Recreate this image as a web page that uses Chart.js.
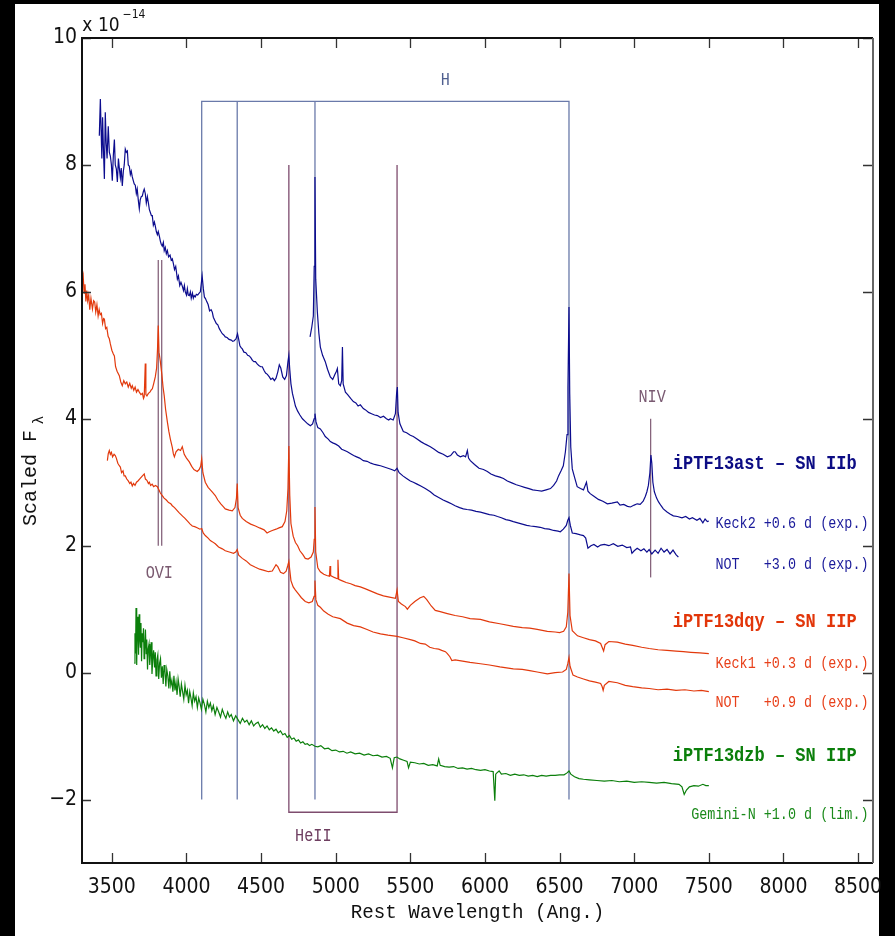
<!DOCTYPE html>
<html>
<head>
<meta charset="utf-8">
<script src="https://cdn.jsdelivr.net/npm/chart.js@4.4.1/dist/chart.umd.min.js"></script>
<style>
  html, body { margin: 0; padding: 0; background: #000; }
  canvas { display: block; }
</style>
</head>
<body>
<canvas id="spectra" width="895" height="936"></canvas>
<script>
// axis ticks
const xTicks = [3500, 4000, 4500, 5000, 5500, 6000, 6500, 7000, 7500, 8000, 8500];
const yTicks = [-2, 0, 2, 4, 6, 8, 10];

// iPTF13ast, NOT +3.0 d
const astNotWave = [3416,3423,3428,3433,3438,3443,3450,3456,3462,3468,3476,3483,3490,3497,3503,3510,3517,3523,3530,3537,3544,3550,3557,3563,3570,3577,3583,3590,3597,3604,3610,3617,3624,3630,3637,3644,3650,3657,3664,3670,3677,3684,3690,3697,3704,3711,3717,3724,3731,3738,3745,3751,3758,3765,3771,3778,3785,3791,3798,3805,3811,3818,3825,3831,3838,3845,3851,3858,3865,3872,3880,3890,3898,3905,3912,3920,3928,3939,3946,3955,3963,3972,3980,3986,3992,4000,4006,4012,4019,4026,4032,4040,4046,4052,4059,4066,4075,4085,4093,4105,4113,4120,4128,4135,4145,4155,4165,4173,4180,4190,4200,4210,4220,4230,4240,4250,4260,4272,4285,4300,4310,4320,4332,4342,4350,4358,4366,4374,4385,4398,4410,4421,4432,4442,4452,4462,4475,4485,4497,4508,4520,4530,4542,4555,4565,4578,4589,4600,4612,4622,4632,4645,4658,4670,4680,4686,4692,4700,4710,4720,4730,4745,4760,4777,4795,4812,4830,4845,4855,4861,4868,4880,4897,4915,4930,4950,4964,4980,5000,5020,5040,5060,5078,5100,5120,5140,5160,5185,5210,5235,5260,5280,5300,5325,5350,5375,5395,5411,5425,5450,5475,5500,5520,5545,5570,5600,5634,5660,5690,5720,5748,5775,5800,5830,5855,5880,5910,5940,5970,6000,6030,6060,6084,6110,6140,6165,6190,6220,6250,6280,6305,6340,6370,6400,6430,6460,6490,6505,6525,6545,6555,6563,6572,6585,6610,6640,6660,6675,6690,6710,6730,6755,6775,6800,6830,6860,6890,6920,6950,6975,6985,7000,7020,7045,7065,7085,7100,7118,7140,7160,7180,7200,7220,7240,7260,7280,7296];
const astNotFlux = [8.46,9.04,8.55,8.10,8.75,8.30,7.78,8.83,8.35,8.10,8.61,8.20,8.14,8.00,7.75,8.15,8.40,8.00,7.94,7.73,8.10,7.95,7.80,7.95,7.67,7.90,8.00,8.25,8.20,8.22,8.00,7.98,7.85,7.90,7.81,7.75,7.70,7.68,7.55,7.62,7.45,7.31,7.45,7.50,7.51,7.58,7.62,7.55,7.40,7.50,7.40,7.30,7.25,7.20,7.20,7.05,7.10,7.04,6.95,6.90,6.95,6.88,6.80,6.75,6.72,6.78,6.65,6.70,6.60,6.65,6.55,6.58,6.50,6.52,6.45,6.35,6.40,6.20,6.25,6.10,6.15,6.09,6.02,6.10,6.00,5.95,6.05,5.95,5.94,6.00,5.90,5.98,5.90,5.94,5.92,5.96,5.95,5.98,6.00,6.25,6.05,5.92,5.89,5.85,5.80,5.70,5.72,5.68,5.60,5.55,5.50,5.48,5.42,5.38,5.34,5.32,5.29,5.28,5.25,5.24,5.22,5.23,5.26,5.34,5.25,5.15,5.12,5.10,5.05,5.04,5.00,4.99,4.96,4.92,4.90,4.90,4.86,4.84,4.82,4.82,4.76,4.72,4.70,4.66,4.62,4.64,4.60,4.64,4.74,4.85,4.80,4.66,4.62,4.68,4.90,5.00,4.78,4.55,4.40,4.30,4.20,4.12,4.06,4.00,3.96,3.92,3.89,3.92,4.00,4.08,3.95,3.86,3.84,3.78,3.72,3.68,3.64,3.62,3.60,3.57,3.52,3.50,3.48,3.45,3.42,3.40,3.38,3.34,3.33,3.30,3.28,3.27,3.26,3.24,3.22,3.20,3.18,3.22,3.15,3.10,3.06,3.02,3.00,2.97,2.94,2.90,2.85,2.80,2.76,2.72,2.69,2.66,2.63,2.60,2.58,2.57,2.56,2.54,2.53,2.51,2.49,2.48,2.46,2.44,2.41,2.40,2.38,2.36,2.34,2.32,2.31,2.30,2.29,2.27,2.26,2.24,2.23,2.22,2.26,2.32,2.40,2.44,2.32,2.20,2.19,2.17,2.16,2.12,1.96,2.00,2.02,1.98,2.01,2.02,2.00,2.03,1.99,2.01,1.97,1.98,1.88,1.92,1.96,1.92,1.95,1.90,1.94,1.87,1.93,1.88,1.96,1.90,1.94,1.87,1.93,1.86,1.82];

// iPTF13ast, Keck2 +0.6 d
const astKeckWave = [4828,4840,4850,4856,4861,4866,4877,4887,4897,4912,4930,4945,4964,4980,4995,5005,5011,5020,5031,5040,5045,5050,5065,5080,5100,5118,5135,5150,5165,5185,5200,5220,5240,5260,5279,5300,5320,5340,5355,5366,5385,5400,5408,5413,5418,5430,5453,5475,5500,5520,5545,5570,5600,5634,5660,5690,5720,5748,5770,5790,5800,5815,5835,5855,5870,5882,5890,5902,5930,5960,5990,6016,6040,6070,6100,6124,6150,6180,6210,6237,6265,6295,6320,6350,6380,6410,6439,6460,6480,6493,6510,6525,6539,6550,6556,6563,6568,6575,6585,6600,6618,6640,6660,6680,6690,6705,6730,6760,6790,6820,6850,6887,6905,6930,6955,6975,7000,7020,7040,7060,7075,7085,7095,7105,7112,7118,7125,7135,7150,7163,7180,7195,7220,7240,7262,7290,7320,7345,7370,7390,7420,7440,7460,7475,7490,7500];
const astKeckFlux = [5.29,5.45,5.62,6.40,7.81,6.20,5.68,5.35,5.13,5.00,4.90,4.78,4.66,4.62,4.70,4.75,4.79,4.55,4.52,4.60,5.13,4.55,4.42,4.38,4.32,4.27,4.25,4.20,4.22,4.16,4.14,4.10,4.08,4.06,4.05,4.02,4.04,4.00,3.98,4.00,3.98,4.08,4.40,4.50,4.10,3.92,3.80,3.78,3.74,3.72,3.68,3.64,3.60,3.56,3.52,3.47,3.44,3.40,3.42,3.48,3.48,3.43,3.40,3.42,3.40,3.50,3.38,3.34,3.28,3.22,3.20,3.17,3.13,3.10,3.08,3.06,3.02,2.99,2.96,2.94,2.92,2.90,2.88,2.87,2.86,2.88,2.90,2.95,3.02,3.10,3.18,3.26,3.48,3.75,4.50,5.76,4.40,3.55,3.21,3.08,2.93,2.90,2.88,3.00,2.86,2.82,2.78,2.73,2.70,2.66,2.67,2.69,2.64,2.65,2.62,2.61,2.64,2.66,2.65,2.70,2.78,2.85,2.95,3.15,3.43,3.30,3.00,2.85,2.75,2.69,2.63,2.58,2.53,2.50,2.47,2.46,2.44,2.46,2.42,2.44,2.40,2.43,2.36,2.42,2.38,2.39];

// iPTF13dqy, Keck1 +0.3 d
const dqyKeckWave = [3302,3308,3314,3320,3326,3332,3338,3345,3352,3360,3370,3378,3385,3392,3400,3408,3415,3422,3430,3438,3445,3450,3458,3466,3475,3483,3490,3500,3510,3517,3525,3535,3550,3560,3570,3580,3590,3600,3610,3620,3630,3637,3647,3656,3665,3675,3684,3695,3705,3712,3717,3724,3728,3735,3745,3755,3765,3771,3780,3791,3800,3806,3811,3816,3825,3835,3843,3851,3860,3872,3882,3892,3905,3912,3919,3930,3945,3960,3972,3985,4000,4019,4035,4050,4072,4085,4095,4102,4110,4126,4145,4160,4175,4193,4210,4230,4245,4260,4285,4307,4325,4335,4340,4346,4360,4374,4400,4430,4462,4490,4520,4540,4555,4575,4600,4620,4642,4660,4672,4680,4686,4692,4700,4715,4730,4745,4760,4780,4796,4815,4835,4850,4856,4861,4866,4880,4897,4920,4940,4958,4962,4966,4990,5010,5015,5020,5040,5070,5100,5130,5165,5200,5240,5280,5320,5360,5400,5411,5420,5440,5467,5480,5500,5530,5566,5590,5610,5640,5667,5700,5748,5800,5850,5900,5970,6030,6100,6190,6250,6300,6350,6418,6470,6500,6527,6545,6555,6563,6570,6585,6620,6660,6700,6740,6775,6785,6795,6805,6830,6887,6940,6990,7050,7100,7160,7220,7280,7330,7380,7440,7500];
const dqyKeckFlux = [6.16,6.25,5.98,6.12,5.85,6.02,5.86,5.95,5.72,5.90,5.73,5.86,5.84,5.68,5.80,5.62,5.72,5.64,5.66,5.50,5.58,5.57,5.42,5.44,5.30,5.26,5.18,5.08,5.02,4.99,4.82,4.75,4.68,4.58,4.52,4.60,4.55,4.58,4.50,4.56,4.48,4.52,4.45,4.50,4.42,4.46,4.42,4.38,4.40,4.32,4.35,4.87,4.38,4.36,4.40,4.42,4.46,4.47,4.55,4.66,4.80,5.10,5.47,5.05,4.90,4.70,4.50,4.36,4.15,3.95,3.80,3.68,3.55,3.45,3.40,3.48,3.52,3.50,3.56,3.44,3.38,3.32,3.25,3.20,3.17,3.20,3.25,3.37,3.15,3.00,2.92,2.88,2.84,2.79,2.72,2.66,2.62,2.58,2.56,2.55,2.60,2.75,2.98,2.60,2.48,2.43,2.38,2.34,2.31,2.28,2.25,2.20,2.22,2.24,2.26,2.28,2.30,2.38,2.55,2.90,3.57,2.80,2.35,2.15,2.05,2.00,1.92,1.86,1.80,1.79,1.82,1.90,2.10,2.61,1.90,1.65,1.59,1.55,1.53,1.52,1.68,1.53,1.50,1.48,1.78,1.47,1.45,1.42,1.40,1.37,1.35,1.32,1.28,1.24,1.21,1.19,1.17,1.30,1.12,1.08,1.04,1.00,1.06,1.12,1.18,1.20,1.15,1.05,0.98,0.96,0.93,0.90,0.88,0.85,0.84,0.80,0.77,0.73,0.71,0.70,0.68,0.65,0.64,0.63,0.65,0.72,0.95,1.56,0.90,0.66,0.58,0.55,0.52,0.50,0.46,0.40,0.34,0.44,0.49,0.48,0.45,0.43,0.40,0.38,0.36,0.35,0.34,0.33,0.32,0.31,0.30];

// iPTF13dqy, NOT +0.9 d
const dqyNotWave = [3470,3476,3483,3490,3497,3505,3515,3523,3530,3540,3550,3557,3565,3575,3582,3590,3600,3610,3620,3628,3637,3645,3655,3665,3675,3690,3705,3717,3725,3735,3745,3751,3760,3770,3780,3792,3805,3815,3825,3838,3850,3865,3880,3895,3905,3920,3935,3950,3972,3990,4010,4025,4039,4055,4075,4090,4102,4112,4126,4145,4160,4175,4193,4215,4240,4260,4287,4315,4330,4340,4350,4374,4400,4428,4462,4490,4520,4550,4575,4590,4600,4612,4630,4650,4668,4678,4686,4692,4700,4715,4730,4750,4770,4796,4820,4843,4855,4861,4867,4880,4897,4920,4950,4980,5031,5077,5120,5165,5210,5250,5300,5350,5411,5450,5500,5530,5567,5600,5630,5660,5690,5710,5735,5748,5765,5778,5800,5850,5900,5970,6030,6100,6190,6250,6300,6350,6418,6470,6520,6545,6555,6563,6570,6590,6620,6660,6700,6740,6775,6785,6792,6800,6830,6887,6940,6990,7050,7100,7160,7220,7280,7340,7400,7450,7500];
const dqyNotFlux = [3.34,3.45,3.50,3.44,3.47,3.40,3.44,3.42,3.38,3.30,3.26,3.24,3.15,3.18,3.10,3.10,3.05,3.02,2.98,3.00,2.94,2.98,2.95,3.00,3.02,3.06,3.10,3.13,3.05,3.03,2.98,3.00,2.95,2.97,2.93,2.95,2.93,2.88,2.83,2.79,2.75,2.72,2.68,2.66,2.63,2.60,2.56,2.52,2.47,2.43,2.38,2.34,2.31,2.30,2.28,2.26,2.27,2.20,2.16,2.12,2.08,2.06,2.03,1.98,1.95,1.92,1.90,1.88,1.90,1.94,1.85,1.80,1.76,1.70,1.66,1.63,1.61,1.59,1.60,1.66,1.70,1.67,1.58,1.56,1.60,1.68,1.75,1.62,1.45,1.35,1.30,1.24,1.18,1.12,1.10,1.12,1.20,1.45,1.15,1.06,1.03,0.97,0.92,0.88,0.85,0.78,0.74,0.72,0.68,0.64,0.61,0.59,0.57,0.55,0.52,0.50,0.46,0.45,0.40,0.38,0.37,0.35,0.33,0.30,0.25,0.19,0.20,0.18,0.16,0.14,0.12,0.09,0.06,0.05,0.03,0.01,-0.02,0.00,0.01,0.05,0.14,0.24,0.10,-0.04,-0.07,-0.10,-0.13,-0.15,-0.17,-0.22,-0.28,-0.20,-0.14,-0.16,-0.20,-0.22,-0.24,-0.25,-0.27,-0.26,-0.28,-0.27,-0.29,-0.28,-0.30];

// iPTF13dzb, Gemini-N +1.0 d
const dzbWave = [3650,3655,3659,3662,3665,3668,3671,3675,3679,3683,3687,3691,3695,3699,3703,3708,3712,3716,3720,3725,3730,3734,3739,3744,3749,3754,3759,3764,3769,3775,3780,3786,3791,3796,3802,3808,3814,3820,3826,3832,3838,3844,3850,3856,3862,3868,3875,3882,3888,3895,3902,3909,3916,3923,3930,3937,3944,3951,3958,3966,3974,3982,3990,3998,4006,4014,4022,4030,4038,4046,4055,4064,4073,4082,4091,4100,4110,4120,4130,4140,4150,4160,4170,4180,4192,4204,4216,4228,4240,4252,4264,4276,4288,4300,4315,4330,4345,4360,4375,4390,4405,4420,4435,4450,4465,4480,4495,4510,4525,4540,4555,4570,4585,4600,4615,4630,4645,4660,4675,4690,4705,4720,4735,4750,4765,4780,4795,4810,4825,4840,4861,4880,4900,4925,4950,4975,5000,5025,5050,5075,5100,5130,5160,5190,5220,5250,5280,5310,5340,5365,5380,5392,5410,5430,5455,5478,5488,5500,5530,5560,5590,5620,5650,5680,5690,5700,5730,5760,5790,5820,5850,5880,5910,5940,5970,6000,6030,6055,6066,6072,6080,6095,6110,6140,6170,6200,6230,6260,6290,6320,6350,6380,6410,6440,6470,6500,6530,6550,6563,6575,6600,6630,6660,6700,6750,6800,6850,6900,6950,7000,7050,7100,7150,7200,7250,7300,7320,7335,7350,7370,7400,7430,7460,7480,7500];
const dzbFlux = [0.15,0.62,0.30,1.02,0.45,0.12,0.88,0.70,0.28,0.92,0.55,0.40,0.78,0.18,0.62,0.48,0.70,0.22,0.35,0.68,0.30,0.52,0.05,0.38,0.45,0.12,0.30,0.48,-0.02,0.25,0.35,0.08,0.32,-0.05,0.20,0.28,-0.10,0.15,0.22,-0.08,0.10,-0.18,0.12,0.02,-0.22,0.05,-0.05,-0.25,0.02,-0.20,-0.12,-0.30,-0.05,-0.28,-0.15,-0.35,-0.10,-0.22,-0.38,-0.18,-0.30,-0.42,-0.20,-0.35,-0.28,-0.48,-0.30,-0.40,-0.52,-0.32,-0.45,-0.38,-0.55,-0.40,-0.48,-0.58,-0.42,-0.50,-0.62,-0.45,-0.55,-0.48,-0.60,-0.52,-0.66,-0.55,-0.62,-0.70,-0.58,-0.66,-0.72,-0.62,-0.70,-0.66,-0.76,-0.68,-0.74,-0.80,-0.72,-0.78,-0.75,-0.82,-0.76,-0.84,-0.80,-0.78,-0.86,-0.82,-0.88,-0.84,-0.90,-0.87,-0.92,-0.89,-0.95,-0.92,-0.98,-0.96,-1.02,-0.99,-1.05,-1.03,-1.08,-1.06,-1.11,-1.09,-1.13,-1.12,-1.15,-1.13,-1.16,-1.17,-1.15,-1.20,-1.19,-1.23,-1.22,-1.25,-1.24,-1.27,-1.25,-1.28,-1.27,-1.30,-1.28,-1.31,-1.30,-1.33,-1.32,-1.35,-1.50,-1.34,-1.33,-1.36,-1.38,-1.40,-1.50,-1.41,-1.42,-1.44,-1.43,-1.46,-1.45,-1.47,-1.36,-1.46,-1.48,-1.49,-1.48,-1.51,-1.50,-1.52,-1.51,-1.53,-1.54,-1.53,-1.55,-1.56,-2.02,-1.60,-1.58,-1.55,-1.60,-1.59,-1.62,-1.60,-1.62,-1.61,-1.63,-1.62,-1.64,-1.62,-1.63,-1.62,-1.62,-1.61,-1.61,-1.58,-1.55,-1.60,-1.64,-1.67,-1.68,-1.69,-1.70,-1.71,-1.70,-1.72,-1.71,-1.73,-1.72,-1.73,-1.74,-1.73,-1.75,-1.76,-1.80,-1.92,-1.85,-1.80,-1.78,-1.79,-1.76,-1.78,-1.78];

// line identifications (rest wavelengths) and their vertical extents
const hLines = [4102, 4340, 4861, 6563];
const hRange = [-2, 9];
const heIILines = [4686, 5411];
const heIIRange = [-2.2, 8];
const oviLines = [3811, 3834];
const oviRange = [2, 6.5];
const nivLines = [7110];
const nivRange = [1.5, 4];

const BLUE = '#0c0c8e';
const RED = '#e2390c';
const GREEN = '#0b7f0b';
const HCOL = '#6a7aaa';
const HEIICOL = '#7e4c6e';
const OVICOL = '#86647c';

function pts(w, f) {
    return w.map((v, i) => ({ x: v, y: f[i] }));
}
function spectrum(w, f, color) {
    return { data: pts(w, f), borderColor: color, borderWidth: 1.2, pointRadius: 0, tension: 0 };
}
function marker(data, color) {
    return { data: data, borderColor: color, borderWidth: 1.3, pointRadius: 0, tension: 0 };
}

const datasets = [
    spectrum(astKeckWave, astKeckFlux, BLUE),
    spectrum(astNotWave, astNotFlux, BLUE),
    spectrum(dqyKeckWave, dqyKeckFlux, RED),
    spectrum(dqyNotWave, dqyNotFlux, RED),
    spectrum(dzbWave, dzbFlux, GREEN),
    // H bracket
    marker([{x: hLines[0], y: hRange[0]}, {x: hLines[0], y: hRange[1]}, {x: hLines[3], y: hRange[1]}, {x: hLines[3], y: hRange[0]}], HCOL),
    marker([{x: hLines[1], y: hRange[0]}, {x: hLines[1], y: hRange[1]}], HCOL),
    marker([{x: hLines[2], y: hRange[0]}, {x: hLines[2], y: hRange[1]}], HCOL),
    // HeII bracket
    marker([{x: heIILines[0], y: heIIRange[1]}, {x: heIILines[0], y: heIIRange[0]}, {x: heIILines[1], y: heIIRange[0]}, {x: heIILines[1], y: heIIRange[1]}], HEIICOL),
    marker([{x: oviLines[0], y: oviRange[0]}, {x: oviLines[0], y: oviRange[1]}], OVICOL),
    marker([{x: oviLines[1], y: oviRange[0]}, {x: oviLines[1], y: oviRange[1]}], OVICOL),
    marker([{x: nivLines[0], y: nivRange[0]}, {x: nivLines[0], y: nivRange[1]}], OVICOL)
];

const TICKFONT = '"Liberation Sans Narrow", "DejaVu Sans Condensed", "Liberation Sans", sans-serif';
const MONO = '"Liberation Mono", "DejaVu Sans Mono", monospace';

// text with horizontal squeeze
function txt(ctx, s, x, y, font, color, align, sx) {
    ctx.save();
    ctx.translate(x, y);
    ctx.scale(sx || 1, 1);
    ctx.font = font;
    ctx.fillStyle = color;
    ctx.textAlign = align || 'center';
    ctx.textBaseline = 'middle';
    ctx.fillText(s, 0, 0);
    ctx.restore();
}

const framePlugin = {
    id: 'frame',
    beforeDraw(chart) {
        const c = chart.ctx;
        c.save();
        c.fillStyle = '#000';
        c.fillRect(0, 0, chart.width, chart.height);
        c.fillStyle = '#fff';
        c.fillRect(15, 4, 864, 932);
        c.restore();
    },
    afterDraw(chart) {
        const c = chart.ctx;
        const a = chart.chartArea;
        const xs = chart.scales.x, ys = chart.scales.y;
        c.save();
        // ticks, inward on all four sides
        c.lineWidth = 1.3;
        c.strokeStyle = '#333';
        xTicks.forEach(v => {
            const px = Math.round(xs.getPixelForValue(v)) + 0.5;
            c.beginPath();
            c.moveTo(px, a.bottom); c.lineTo(px, a.bottom - 10);
            c.moveTo(px, a.top); c.lineTo(px, a.top + 10);
            c.stroke();
        });
        yTicks.forEach(v => {
            const py = Math.round(ys.getPixelForValue(v)) + 0.5;
            c.beginPath();
            c.moveTo(a.left, py); c.lineTo(a.left + 9, py);
            c.moveTo(a.right, py); c.lineTo(a.right - 10, py);
            c.stroke();
        });
        // box
        c.lineWidth = 2;
        c.strokeStyle = '#111';
        c.beginPath();
        c.moveTo(a.right, a.top); c.lineTo(a.left, a.top); c.lineTo(a.left, a.bottom); c.lineTo(a.right, a.bottom);
        c.stroke();
        c.strokeStyle = '#666';
        c.beginPath();
        c.moveTo(a.right, a.top); c.lineTo(a.right, a.bottom);
        c.stroke();

        const X = v => xs.getPixelForValue(v);
        const Y = v => ys.getPixelForValue(v);

        // line id labels
        txt(c, 'H', X(5735), Y(9.34), '19px ' + MONO, '#4f5f8f', 'center', 0.8);
        txt(c, 'HeII', X(4850), Y(-2.58), '19px ' + MONO, '#6e3e60', 'center', 0.8);
        txt(c, 'OVI', X(3818), Y(1.57), '19px ' + MONO, '#7a5a70', 'center', 0.8);
        txt(c, 'NIV', X(7120), Y(4.35), '19px ' + MONO, '#7a5a72', 'center', 0.8);

        // object / epoch labels
        const bold = 'bold 21px ' + MONO;
        const small = '17px ' + MONO;
        txt(c, 'iPTF13ast \u2013 SN IIb', X(8490), Y(3.29), bold, '#0c0c84', 'right', 0.81);
        txt(c, 'Keck2 +0.6 d (exp.)', X(8570), Y(2.35), small, '#1a1a9a', 'right', 0.79);
        txt(c, 'NOT   +3.0 d (exp.)', X(8570), Y(1.70), small, '#1a1a9a', 'right', 0.79);
        txt(c, 'iPTF13dqy \u2013 SN IIP', X(8490), Y(0.80), bold, '#e2360a', 'right', 0.81);
        txt(c, 'Keck1 +0.3 d (exp.)', X(8570), Y(0.14), small, '#e8401a', 'right', 0.79);
        txt(c, 'NOT   +0.9 d (exp.)', X(8570), Y(-0.47), small, '#e8401a', 'right', 0.79);
        txt(c, 'iPTF13dzb \u2013 SN IIP', X(8490), Y(-1.31), bold, '#0b7f0b', 'right', 0.81);
        txt(c, 'Gemini-N +1.0 d (lim.)', X(8570), Y(-2.24), small, '#1b8a1b', 'right', 0.79);

        // axis titles
        txt(c, 'Rest Wavelength (Ang.)', (a.left + a.right) / 2, 913, '20px ' + MONO, '#111', 'center', 0.96);
        c.save();
        c.translate(31, 478);
        c.rotate(-Math.PI / 2);
        txt(c, 'Scaled F', 0, 0, '20px ' + MONO, '#111', 'center', 1);
        txt(c, '\u03bb', 58, 8, '15px ' + MONO, '#111', 'center', 1);
        c.restore();
        txt(c, 'x 10', 101, 26, '19px ' + TICKFONT, '#111', 'center', 1);
        txt(c, '\u221214', 134, 15, '12px ' + TICKFONT, '#111', 'center', 1);
        c.restore();
    }
};

const ctx = document.getElementById('spectra').getContext('2d');
new Chart(ctx, {
    type: 'line',
    data: { datasets: datasets },
    options: {
        responsive: false,
        animation: false,
        events: [],
        layout: { padding: { left: 0, right: 22, top: 38, bottom: 0 } },
        plugins: { legend: { display: false }, tooltip: { enabled: false } },
        scales: {
            x: {
                type: 'linear',
                min: 3300,
                max: 8600,
                afterBuildTicks: s => { s.ticks = xTicks.map(v => ({ value: v })); },
                afterFit: s => { s.height = 73; },
                grid: { display: false, drawTicks: false },
                border: { display: false },
                ticks: {
                    font: { family: TICKFONT, size: 21 }, color: '#111', padding: 12, maxRotation: 0, autoSkip: false,
                    callback: v => String(v)
                }
            },
            y: {
                type: 'linear',
                min: -3,
                max: 10,
                afterBuildTicks: s => { s.ticks = yTicks.map(v => ({ value: v })); },
                afterFit: s => { s.width = 82; },
                grid: { display: false, drawTicks: false },
                border: { display: false },
                ticks: {
                    font: { family: TICKFONT, size: 21 }, color: '#111', padding: 5,
                    callback: v => String(v).replace('-', '\u2212')
                }
            }
        }
    },
    plugins: [framePlugin]
});
</script>
</body>
</html>
